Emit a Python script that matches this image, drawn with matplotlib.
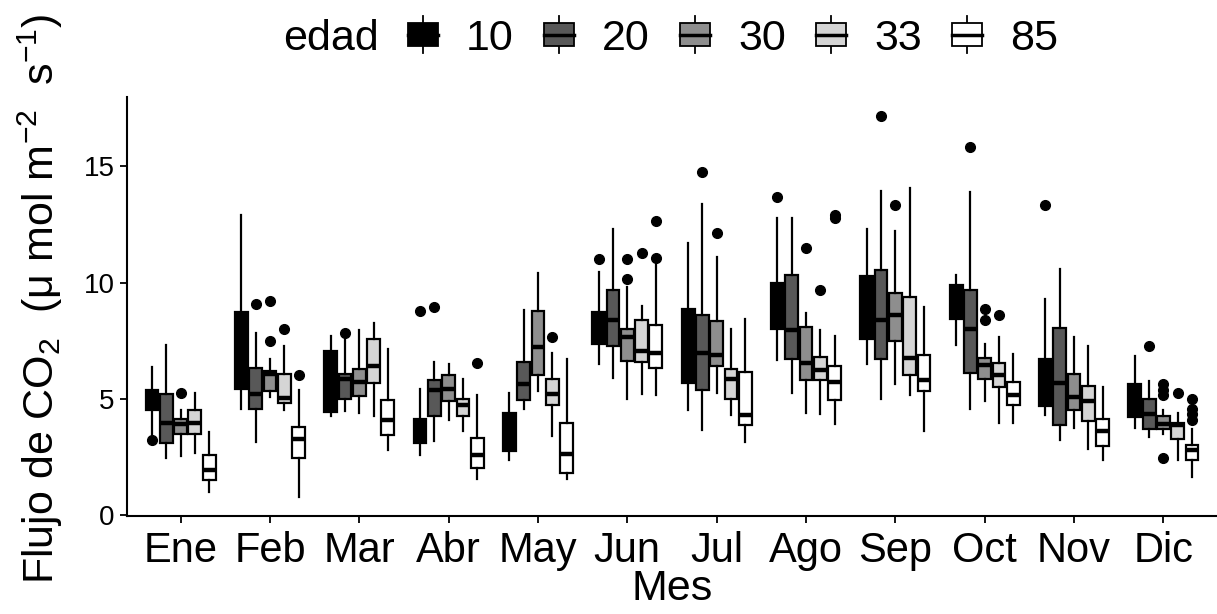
import numpy as np
import matplotlib
matplotlib.use("Agg")
import matplotlib.pyplot as plt
from matplotlib.patches import Rectangle
from matplotlib.lines import Line2D
from matplotlib.legend_handler import HandlerBase

plt.rcParams['font.family'] = ['Liberation Sans', 'DejaVu Sans']
plt.rcParams['mathtext.fontset'] = 'custom'
plt.rcParams['mathtext.rm'] = 'Liberation Sans'
plt.rcParams['mathtext.it'] = 'Liberation Sans:italic'

meses = ['Ene', 'Feb', 'Mar', 'Abr', 'May', 'Jun', 'Jul', 'Ago', 'Sep', 'Oct', 'Nov', 'Dic']
edades = ['10', '20', '30', '33', '85']
colores = ['#000000', '#585858', '#8e8e8e', '#d5d5d5', '#ffffff']

# edad 10
lo_10 = [3.30, 4.56, 4.27, 2.58, 2.39, 6.49, 4.51, 6.69, 6.52, 7.31, 4.30, 3.77]
q1_10 = [4.51, 5.43, 4.44, 3.12, 2.75, 7.38, 5.69, 8.02, 7.59, 8.42, 4.70, 4.23]
med_10 = [4.90, 6.50, 5.60, 3.60, 3.30, 8.00, 7.20, 9.00, 8.80, 9.30, 5.60, 4.90]
q3_10 = [5.37, 8.72, 7.05, 4.15, 4.40, 8.72, 8.88, 10.00, 10.27, 9.91, 6.73, 5.66]
hi_10 = [6.38, 12.92, 7.69, 5.44, 5.26, 10.46, 11.70, 12.79, 12.28, 10.34, 9.28, 6.83]
out_10 = [[3.22], [], [], [8.77], [], [10.99], [], [13.68], [], [], [13.32], []]

# edad 20
lo_20 = [2.46, 3.15, 4.48, 3.19, 4.56, 5.92, 3.68, 5.27, 5.01, 4.56, 3.25, 3.37]
q1_20 = [3.11, 4.57, 4.99, 4.26, 4.94, 7.26, 5.37, 6.70, 6.73, 6.12, 3.90, 3.72]
med_20 = [3.97, 5.20, 5.87, 5.37, 5.63, 8.38, 6.99, 7.98, 8.41, 8.02, 5.69, 4.37]
q3_20 = [5.23, 6.33, 6.06, 5.83, 6.59, 9.67, 8.62, 10.34, 10.53, 9.67, 8.05, 4.99]
hi_20 = [7.33, 7.84, 7.60, 6.59, 8.84, 12.29, 13.37, 12.75, 13.93, 13.90, 10.60, 5.77]
out_20 = [[], [9.07], [7.84], [8.93], [], [], [14.76], [], [17.15], [15.83], [], [7.26]]

# edad 30
lo_30 = [2.55, 5.09, 4.41, 4.11, 5.34, 5.01, 5.27, 4.41, 5.62, 4.90, 3.75, 3.51]
q1_30 = [3.48, 5.34, 5.14, 4.91, 6.02, 6.62, 6.42, 5.83, 7.48, 5.85, 4.54, 3.72]
med_30 = [3.94, 6.05, 5.73, 5.44, 7.23, 7.64, 6.88, 6.55, 8.62, 6.45, 5.09, 3.94]
q3_30 = [4.15, 6.19, 6.30, 6.02, 8.78, 8.00, 8.35, 8.07, 9.57, 6.76, 6.09, 4.26]
hi_30 = [4.51, 6.73, 7.95, 6.48, 10.42, 9.81, 11.10, 8.67, 12.21, 7.34, 7.64, 4.51]
out_30 = [[5.27], [7.49, 9.20], [], [], [], [10.17, 10.99], [12.11], [11.50], [13.35],
          [8.38, 8.88], [], [2.46, 5.16, 5.40, 5.62]]

# edad 33
lo_33 = [2.69, 4.54, 4.27, 3.61, 3.41, 5.20, 4.33, 4.37, 5.19, 3.98, 2.87, 2.36]
q1_33 = [3.48, 4.83, 5.69, 4.26, 4.73, 6.59, 4.99, 5.83, 6.02, 5.52, 4.04, 3.30]
med_33 = [3.97, 5.04, 6.42, 4.73, 5.20, 7.06, 5.87, 6.26, 6.76, 6.02, 4.90, 3.87]
q3_33 = [4.51, 6.09, 7.59, 5.01, 5.87, 8.38, 6.30, 6.81, 9.36, 6.55, 5.56, 3.97]
hi_33 = [5.27, 7.28, 8.24, 5.87, 6.98, 8.98, 8.00, 7.98, 14.04, 7.64, 7.26, 4.41]
out_33 = [[], [7.99], [], [], [7.66], [11.28], [], [9.70], [], [8.62], [], [5.26]]

# edad 85
lo_85 = [1.00, 0.79, 2.79, 1.58, 1.55, 5.16, 3.15, 3.94, 3.61, 3.98, 2.39, 1.65]
q1_85 = [1.50, 2.48, 3.44, 2.03, 1.83, 6.35, 3.87, 4.94, 5.33, 4.76, 2.98, 2.36]
med_85 = [1.93, 3.30, 4.08, 2.61, 2.62, 6.99, 4.30, 5.73, 5.80, 5.16, 3.61, 2.82]
q3_85 = [2.58, 3.80, 4.94, 3.32, 3.98, 8.17, 6.16, 6.42, 6.88, 5.73, 4.13, 3.04]
hi_85 = [3.58, 5.40, 7.16, 5.16, 6.73, 10.82, 8.45, 7.71, 8.93, 6.95, 5.52, 3.72]
out_85 = [[], [6.02], [], [6.55], [], [11.07, 12.65], [], [12.75, 12.90], [], [], [],
          [4.11, 4.37, 4.58, 5.01]]

grupos = [
    (lo_10, q1_10, med_10, q3_10, hi_10, out_10),
    (lo_20, q1_20, med_20, q3_20, hi_20, out_20),
    (lo_30, q1_30, med_30, q3_30, hi_30, out_30),
    (lo_33, q1_33, med_33, q3_33, hi_33, out_33),
    (lo_85, q1_85, med_85, q3_85, hi_85, out_85),
]

fig = plt.figure(figsize=(12.17, 6.14), dpi=100)
ax = fig.add_axes([127/1217, 1-516/614, (1217-127)/1217, (516-97)/614])

paso = 0.16
ancho = 0.144
x = np.arange(1, len(meses)+1)
todos = []
for i, (lo, q1, med, q3, hi, out) in enumerate(grupos):
    stats = []
    for j in range(len(meses)):
        stats.append(dict(whislo=lo[j], q1=q1[j], med=med[j], q3=q3[j], whishi=hi[j], fliers=out[j]))
        todos += [lo[j], hi[j]] + out[j]
    pos = x + (i - 2) * paso
    ax.bxp(stats, positions=pos, widths=ancho, patch_artist=True, showcaps=False,
           boxprops=dict(facecolor=colores[i], edgecolor='black', linewidth=1.6),
           whiskerprops=dict(color='black', linewidth=1.6),
           medianprops=dict(color='black', linewidth=3.2, solid_capstyle='butt'),
           flierprops=dict(marker='o', markerfacecolor='black', markeredgecolor='black',
                           markersize=7),
           manage_ticks=False)

ymin, ymax = min(todos), max(todos)
pad = 0.05 * (ymax - ymin)
ax.set_ylim(ymin - pad, ymax + pad)
ax.set_xlim(0.4, len(meses) + 0.6)
ax.set_xticks(x)
ax.set_xticklabels(meses)
ax.set_yticks([0, 5, 10, 15])
for s in ['top', 'right']:
    ax.spines[s].set_visible(False)
for s in ['left', 'bottom']:
    ax.spines[s].set_linewidth(1.5)
ax.tick_params(axis='both', length=5, width=1.3, color='black')
ax.tick_params(axis='x', labelsize=30, pad=6)
ax.tick_params(axis='y', labelsize=20, pad=4)
ax.set_xlabel('Mes', fontsize=31, labelpad=-2)
fig.text(16/1217, 1-584/614, 'Flujo de CO$_2$  (μ mol m$^{-2}$  s$^{-1}$)', rotation=90,
         fontsize=31, ha='left', va='bottom')


class CajaHandler(HandlerBase):
    def create_artists(self, legend, orig_handle, xdescent, ydescent, width, height, fontsize, trans):
        x0, y0 = -xdescent, -ydescent
        ext = 0.3 * height
        bigote = Line2D([x0 + width/2]*2, [y0 - ext, y0 + height + ext], color='black', lw=1.3, transform=trans)
        caja = Rectangle((x0, y0), width, height, facecolor=orig_handle.get_facecolor(),
                         edgecolor='black', lw=1.3, transform=trans)
        mediana = Line2D([x0, x0 + width], [y0 + height/2]*2, color='black', lw=2.5, transform=trans)
        return [bigote, caja, mediana]


manijas = [Rectangle((0, 0), 1, 1, facecolor=c) for c in colores]
fig.legend(manijas, edades, handler_map={Rectangle: CajaHandler()}, ncol=5, frameon=False,
           loc='center left', bbox_to_anchor=(408/1217, 1-39/614), fontsize=31,
           handlelength=0.7, handleheight=0.45, handletextpad=0.65, columnspacing=0.7,
           borderpad=0, borderaxespad=0)
fig.text(283/1217, 1-39/614, 'edad', fontsize=31, ha='left', va='center')

fig.savefig('out.png', dpi=100)
